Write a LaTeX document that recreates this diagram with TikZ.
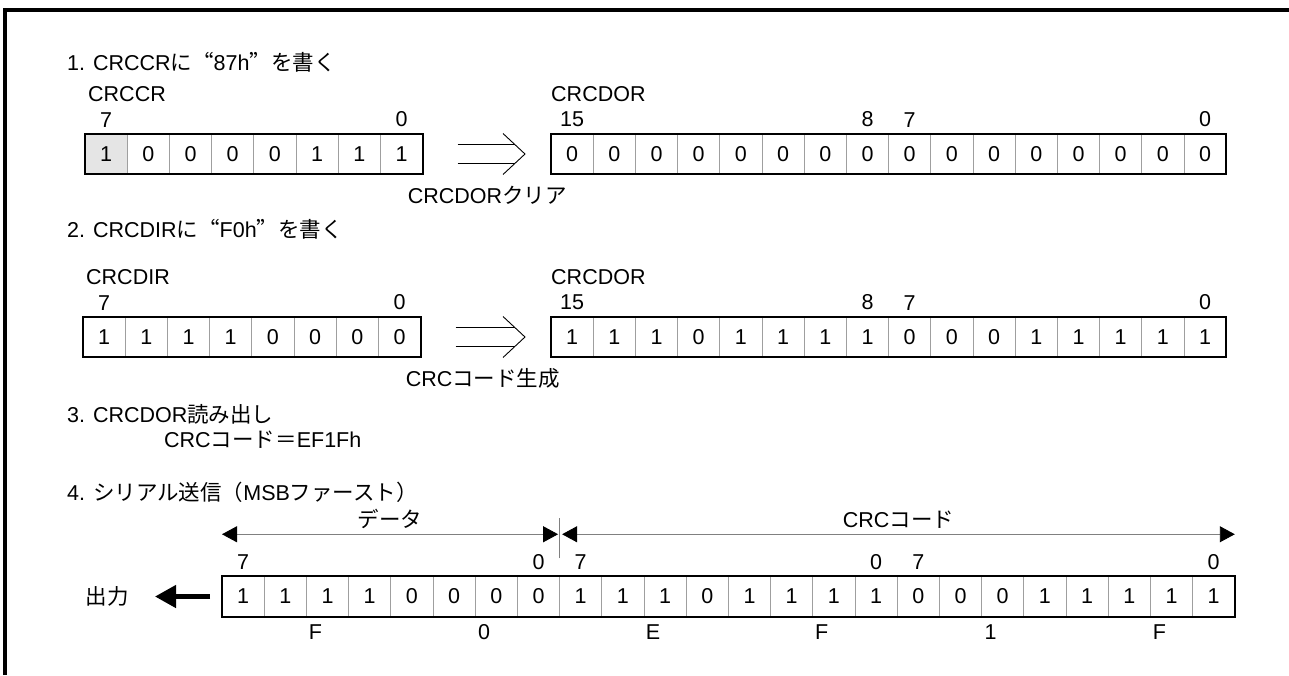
\documentclass[tikz,border=0pt]{standalone}
\usepackage{fontspec}
\setmainfont{Liberation Sans}
\newfontfamily\jpfont{Noto Sans CJK JP}
\newfontfamily\jpwide{Noto Sans CJK JP}[RawFeature=+fwid]
\newcommand{\ja}[1]{{\jpfont #1}}
\newcommand{\openq}{{\jpwide “}}
\newcommand{\closeq}{{\jpwide ”}}
\usetikzlibrary{arrows.meta, positioning}

% hollow double arrow between two registers
\newcommand{\openarrow}[2]{%
  \draw[shaft] ([xshift=35pt,yshift=9.5pt]#1.east) -- ([xshift=-36pt,yshift=9.5pt]#2.west);
  \draw[shaft] ([xshift=35pt,yshift=-9.5pt]#1.east) -- ([xshift=-36pt,yshift=-9.5pt]#2.west);
  \draw[shaft] ([xshift=-48pt,yshift=20.5pt]#2.west) -- ([xshift=-26pt]#2.west) -- ([xshift=-48pt,yshift=-20.5pt]#2.west);}

\begin{document}
\begin{tikzpicture}[
    x=1pt, y=-1pt,
    font=\fontsize{21.5}{26}\selectfont,
    bitcell/.style={
        draw=gray!75,
        line width=0.8pt,
        minimum width=42.2pt,
        minimum height=40.5pt,
        inner sep=0pt,
        outer sep=0pt
    },
    regframe/.style={draw=black, line width=1.8pt},
    bitno/.style={above=5.5pt, inner sep=1pt},
    hexlbl/.style={below=7pt, xshift=9pt, inner sep=1pt},
    txt/.style={anchor=base west, inner sep=0pt},
    shaft/.style={line width=0.9pt},
    dimline/.style={gray, line width=0.9pt,
        {Triangle[length=15pt,width=16pt,color=black]}-{Triangle[length=15pt,width=16pt,color=black]}},
    outarrow/.style={line width=4.5pt, -{Triangle[length=21pt,width=22pt]}}
]
\useasboundingbox (0,0) rectangle (1289,675);
\draw[line width=3.5pt] (5,675) -- (5,10) -- (1289,10);

% 1. write 87h
\node[txt] (step1) at (67,70.7) {1. CRCCR\ja{に}\openq 87h\closeq\ja{を書く}};
\node[bitcell, fill=black!10] (ccr0) at (106.1,154) {1};
\foreach \b [count=\i from 1] in {0,0,0,0,1,1,1}
  \node[bitcell] (ccr\i) at ({106.1+42.2*\i},154) {\b};
\draw[regframe] (ccr0.north west) rectangle (ccr7.south east);
\node[txt] (ccrname) at ([xshift=3pt,yshift=32.3pt]ccr0.north west) {CRCCR};
\node[bitno] at (ccr0.north) {7};
\node[bitno] at (ccr7.north) {0};

\foreach \b [count=\i from 0] in {0,0,0,0,0,0,0,0,0,0,0,0,0,0,0,0}
  \node[bitcell] (dora\i) at ({572.1+42.2*\i},154) {\b};
\draw[regframe] (dora0.north west) rectangle (dora15.south east);
\node[txt] (doraname) at ([xshift=0pt,yshift=32.3pt]dora0.north west) {CRCDOR};
\node[bitno] at (dora0.north) {15};
\node[bitno] at (dora7.north) {8};
\node[bitno] at (dora8.north) {7};
\node[bitno] at (dora15.north) {0};

\openarrow{ccr7}{dora0}
\node[txt] (clear) at ([xshift=-15pt,yshift=-29pt]ccr7.south east) {CRCDOR\ja{クリア}};

% 2. write F0h
\node[txt] (step2) at (67,237.7) {2. CRCDIR\ja{に}\openq F0h\closeq\ja{を書く}};
\foreach \b [count=\i from 0] in {1,1,1,1,0,0,0,0}
  \node[bitcell] (dir\i) at ({104.1+42.2*\i},337) {\b};
\draw[regframe] (dir0.north west) rectangle (dir7.south east);
\node[txt] (dirname) at ([xshift=3pt,yshift=32.3pt]dir0.north west) {CRCDIR};
\node[bitno] at (dir0.north) {7};
\node[bitno] at (dir7.north) {0};

\foreach \b [count=\i from 0] in {1,1,1,0,1,1,1,1,0,0,0,1,1,1,1,1}
  \node[bitcell] (dorb\i) at ({572.1+42.2*\i},337) {\b};
\draw[regframe] (dorb0.north west) rectangle (dorb15.south east);
\node[txt] (dorbname) at ([xshift=0pt,yshift=32.3pt]dorb0.north west) {CRCDOR};
\node[bitno] at (dorb0.north) {15};
\node[bitno] at (dorb7.north) {8};
\node[bitno] at (dorb8.north) {7};
\node[bitno] at (dorb15.north) {0};

\openarrow{dir7}{dorb0}
\node[txt] (gen) at ([xshift=-15pt,yshift=-29pt]dir7.south east) {CRC\ja{コード生成}};

% 3. read
\node[txt] (step3) at (67,422.7) {3. CRCDOR\ja{読み出し}};
\node[txt] (code) at (164,447.7) {CRC\ja{コード＝}EF1Fh};

% 4. serial out
\node[txt] (step4) at (67,500.7) {4. \ja{シリアル送信（}MSB\ja{ファースト）}};
\foreach \b [count=\i from 0] in {1,1,1,1,0,0,0,0,1,1,1,0,1,1,1,1,0,0,0,1,1,1,1,1}
  \node[bitcell] (ser\i) at ({243.1+42.2*\i},596.5) {\b};
\draw[regframe] (ser0.north west) rectangle (ser23.south east);
\node[bitno] at (ser0.north) {7};
\node[bitno] at (ser7.north) {0};
\node[bitno] at (ser8.north) {7};
\node[bitno] at (ser15.north) {0};
\node[bitno] at (ser16.north) {7};
\node[bitno] at (ser23.north) {0};
\node[hexlbl] at (ser1.south east) {F};
\node[hexlbl] at (ser5.south east) {0};
\node[hexlbl] at (ser9.south east) {E};
\node[hexlbl] at (ser13.south east) {F};
\node[hexlbl] at (ser17.south east) {1};
\node[hexlbl] at (ser21.south east) {F};

\draw[dimline] ([yshift=42pt]ser0.north west) -- node[above=4pt, inner sep=1pt, text=black] (datalbl) {\ja{データ}} ([xshift=-1.5pt,yshift=42pt]ser7.north east);
\draw[dimline] ([xshift=2.5pt,yshift=42pt]ser8.north west) -- node[above=4pt, inner sep=1pt, text=black] (crclbl) {CRC\ja{コード}} ([yshift=42pt]ser23.north east);
\draw[gray, line width=0.9pt] ([yshift=18pt]ser7.north east) -- ([yshift=58pt]ser7.north east);

\node[anchor=east, inner sep=0pt] (outlbl) at ([xshift=-93pt]ser0.west) {\ja{出力}};
\draw[outarrow] ([xshift=-12pt]ser0.west) -- ([xshift=26pt]outlbl.east);

\end{tikzpicture}
\end{document}
